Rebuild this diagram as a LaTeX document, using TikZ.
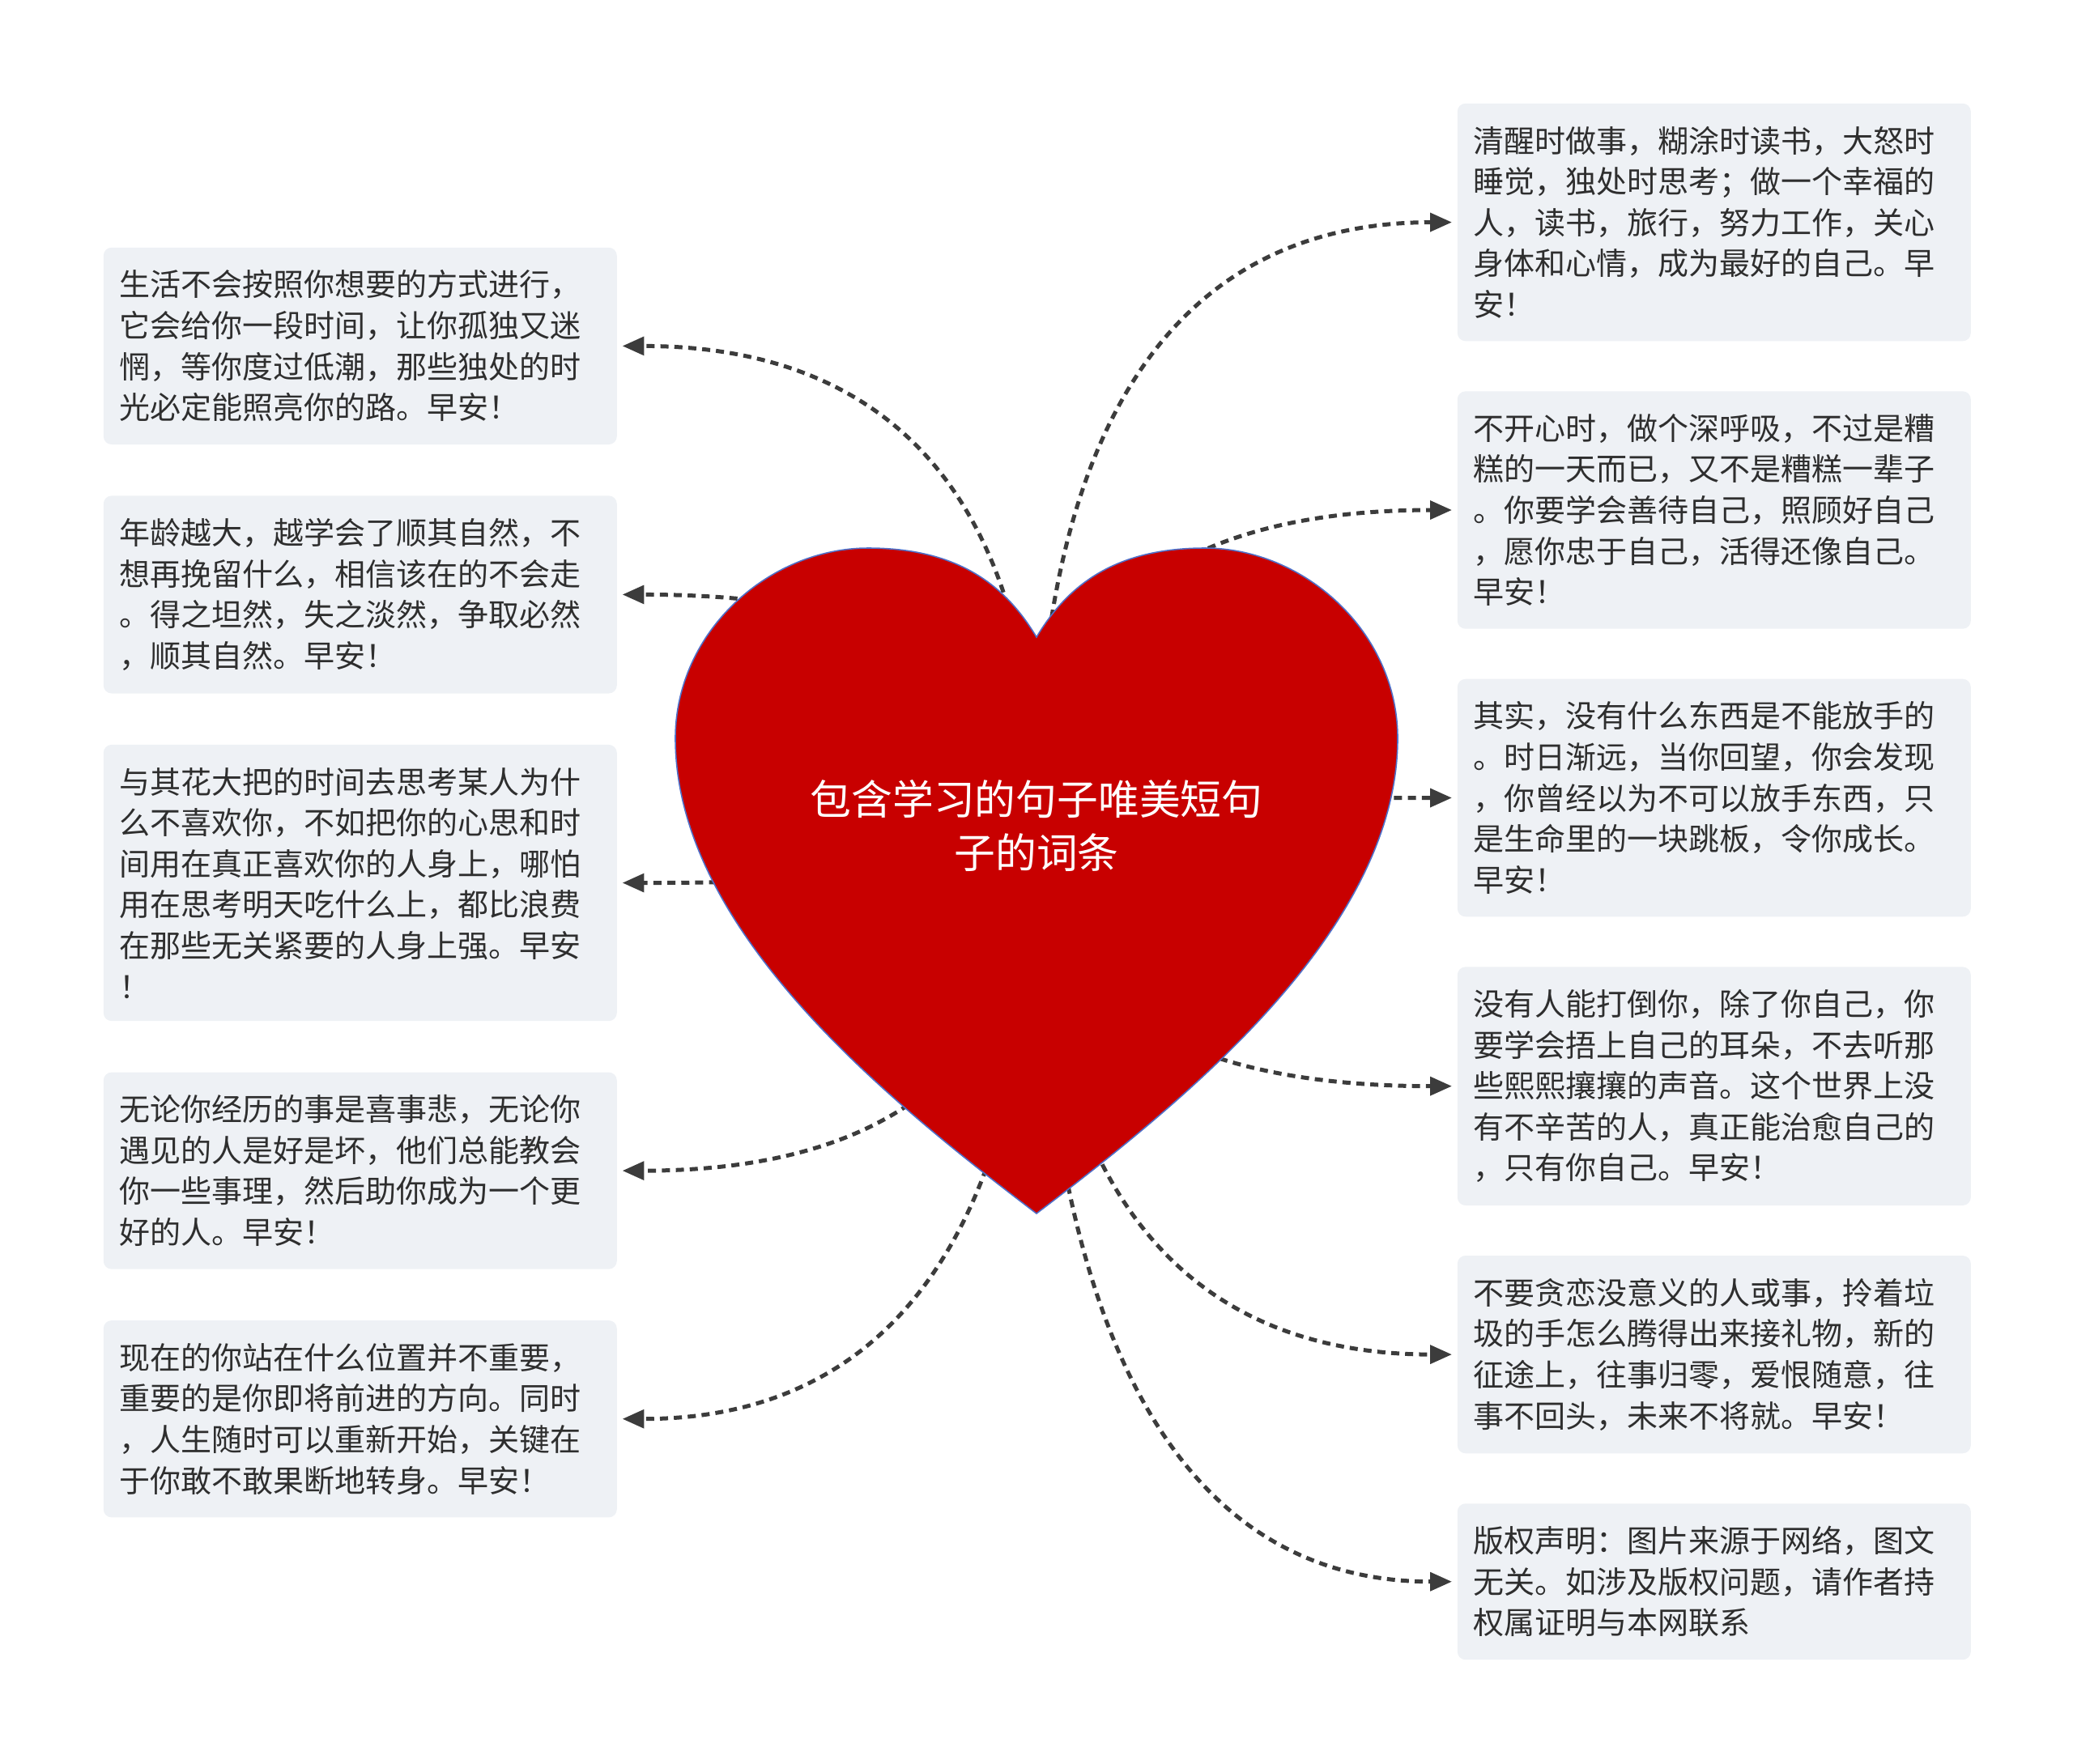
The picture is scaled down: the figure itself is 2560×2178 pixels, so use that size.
\documentclass[tikz,border=0pt]{standalone}
\usepackage{fontspec}
\newfontfamily\cjk{Noto Sans CJK SC}
\usepackage{tikz}
\usetikzlibrary{arrows.meta,positioning,backgrounds,calc}
\definecolor{ink}{HTML}{2E2E2E}
\definecolor{wire}{HTML}{3C3C3C}
\definecolor{cardbg}{HTML}{EEF1F5}
\definecolor{heartred}{HTML}{C80000}
\definecolor{heartline}{HTML}{5070C8}

\begin{document}
\begin{tikzpicture}[x=0.25pt,y=-0.25pt,
  note/.style={fill=cardbg,rounded corners=2.5pt,text width=148.5pt,align=left,
               inner xsep=5pt,inner ysep=7pt,text=ink,
               font=\cjk\fontsize{9.5pt}{12.65pt}\selectfont},
  title/.style={text=white,align=center,font=\cjk\fontsize{12.7pt}{16.7pt}\selectfont},
  link/.style={-{Triangle[length=6.7pt,width=5.6pt]},draw=wire,line width=1.25pt,
               dash pattern=on 2.5pt off 1.8pt,shorten >=1.5pt}
]
\useasboundingbox (0,0) rectangle (2560,2178);

\node[title] (root) at (1280,1020) {包含学习的句子唯美短句\\子的词条};

% left column
\node[note,anchor=north west] (l1) at (127,305)
  {生活不会按照你想要的方式进行，\\它会给你一段时间，让你孤独又迷\\惘，等你度过低潮，那些独处的时\\光必定能照亮你的路。早安！};
\node[note,below=15.45pt of l1] (l2)
  {年龄越大，越学会了顺其自然，不\\想再挽留什么，相信该在的不会走\\。得之坦然，失之淡然，争取必然\\，顺其自然。早安！};
\node[note,below=15.45pt of l2] (l3)
  {与其花大把的时间去思考某人为什\\么不喜欢你，不如把你的心思和时\\间用在真正喜欢你的人身上，哪怕\\用在思考明天吃什么上，都比浪费\\在那些无关紧要的人身上强。早安\\！};
\node[note,below=15.45pt of l3] (l4)
  {无论你经历的事是喜事悲，无论你\\遇见的人是好是坏，他们总能教会\\你一些事理，然后助你成为一个更\\好的人。早安！};
\node[note,below=15.45pt of l4] (l5)
  {现在的你站在什么位置并不重要，\\重要的是你即将前进的方向。同时\\，人生随时可以重新开始，关键在\\于你敢不敢果断地转身。早安！};

% right column
\node[note,anchor=north west] (r1) at (1799,127)
  {清醒时做事，糊涂时读书，大怒时\\睡觉，独处时思考；做一个幸福的\\人，读书，旅行，努力工作，关心\\身体和心情，成为最好的自己。早\\安！};
\node[note,below=15.1pt of r1] (r2)
  {不开心时，做个深呼吸，不过是糟\\糕的一天而已，又不是糟糕一辈子\\。你要学会善待自己，照顾好自己\\，愿你忠于自己，活得还像自己。\\早安！};
\node[note,below=15.1pt of r2] (r3)
  {其实，没有什么东西是不能放手的\\。时日渐远，当你回望，你会发现\\，你曾经以为不可以放手东西，只\\是生命里的一块跳板，令你成长。\\早安！};
\node[note,below=15.1pt of r3] (r4)
  {没有人能打倒你，除了你自己，你\\要学会捂上自己的耳朵，不去听那\\些熙熙攘攘的声音。这个世界上没\\有不辛苦的人，真正能治愈自己的\\，只有你自己。早安！};
\node[note,below=15.1pt of r4] (r5)
  {不要贪恋没意义的人或事，拎着垃\\圾的手怎么腾得出来接礼物，新的\\征途上，往事归零，爱恨随意，往\\事不回头，未来不将就。早安！};
\node[note,below=15.1pt of r5] (r6)
  {版权声明：图片来源于网络，图文\\无关。如涉及版权问题，请作者持\\权属证明与本网联系};

\begin{scope}[on background layer]
\foreach \b in {l1.east,l2.east,l3.east,l4.east,l5.east,
                r1.west,r2.west,r3.west,r4.west,r5.west,r6.west}
  \draw[link] (root.center) .. controls ($(root.center)!2/3!(root.center |- \b)$)
    and ($(\b)!2/3!(root.center |- \b)$) .. (\b);
% heart
\filldraw[fill=heartred,draw=heartline,line width=0.4pt]
  (1280,1499) .. controls (1100,1362) and (834,1150) .. (834,912)
  .. controls (834,780) and (950,677) .. (1072,677)
  .. controls (1180,677) and (1240,720) .. (1280,787)
  .. controls (1320,720) and (1380,677) .. (1488,677)
  .. controls (1610,677) and (1726,780) .. (1726,912)
  .. controls (1726,1150) and (1460,1362) .. (1280,1499) -- cycle;
\end{scope}
\end{tikzpicture}
\end{document}
